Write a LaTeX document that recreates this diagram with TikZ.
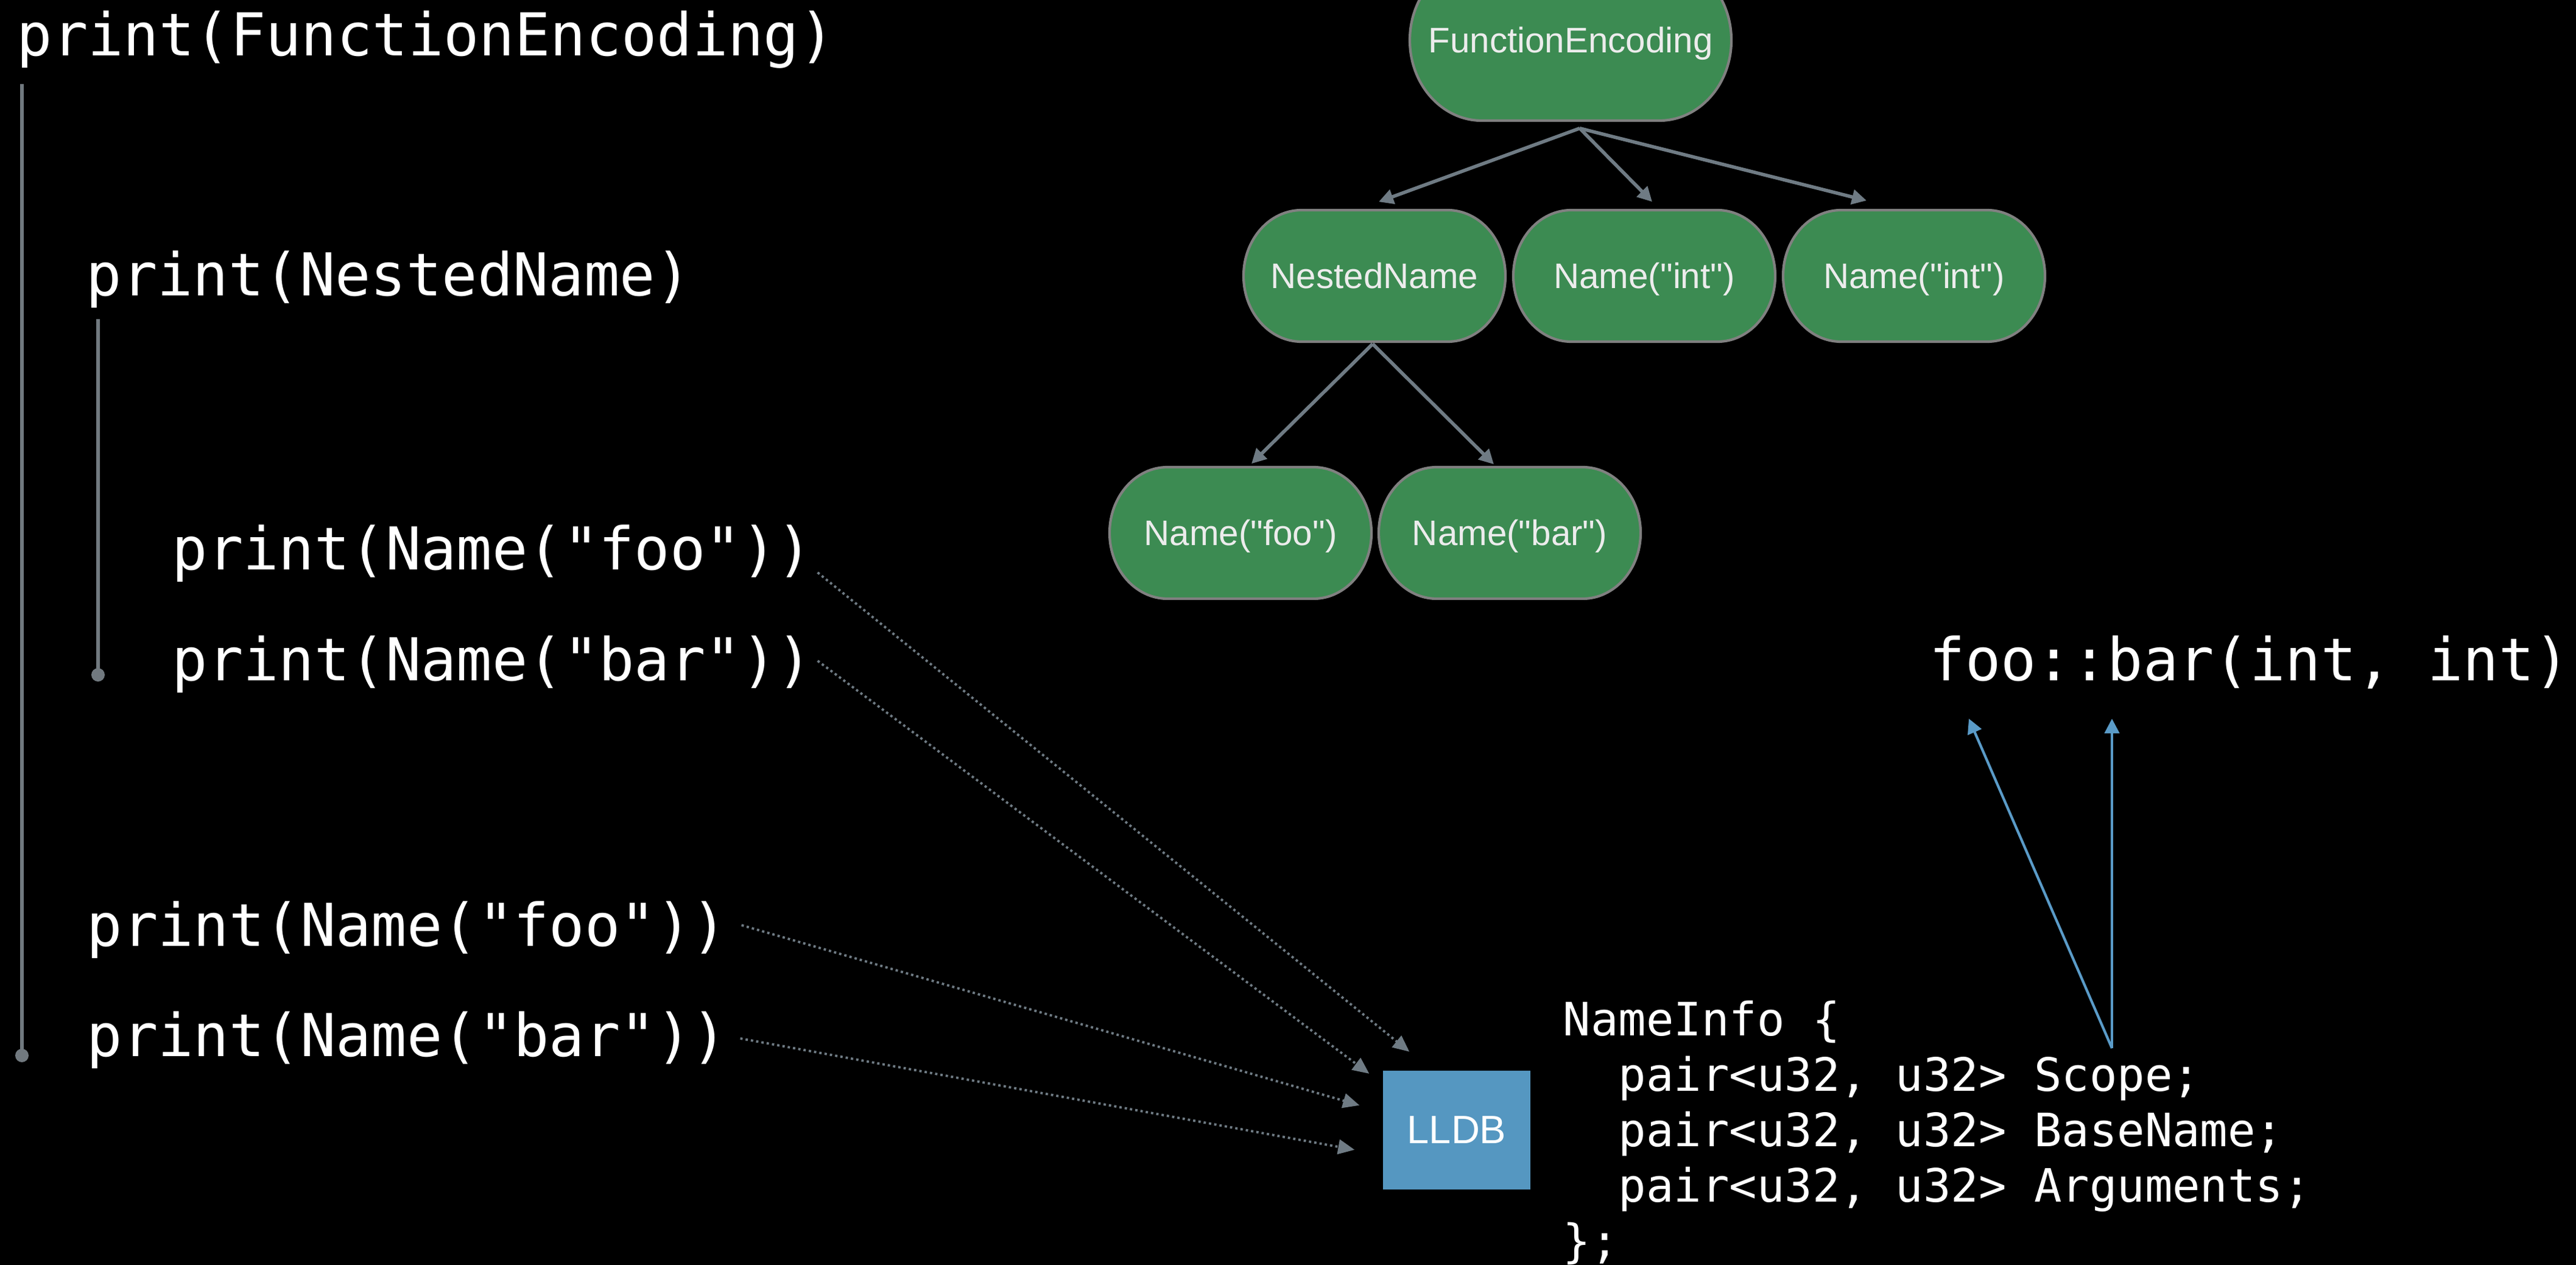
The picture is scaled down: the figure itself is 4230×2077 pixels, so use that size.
\documentclass[tikz,border=0pt]{standalone}
\usepackage{fontspec}
\setmainfont{Liberation Sans}[Ligatures=TeXOff]
\newfontfamily\codefont{DejaVu Sans Mono}[Ligatures=TeXOff]
\usetikzlibrary{arrows.meta,calc}
\definecolor{nodegreen}{HTML}{3C8B52}
\definecolor{nodeedge}{HTML}{808080}
\definecolor{edgegray}{HTML}{6F7B84}
\definecolor{guidegray}{HTML}{71797F}
\definecolor{lldbblue}{HTML}{5597C1}
\definecolor{ptrblue}{HTML}{5A9BC8}
\definecolor{labelwhite}{HTML}{ECECEC}
\tikzset{
  code/.style={anchor=base west, inner sep=0pt, text=white, font=\codefont\fontsize{27.6}{32}\selectfont},
  smallcode/.style={code, font=\codefont\fontsize{21.5}{25}\selectfont},
  pill/.style={fill=nodegreen, draw=nodeedge, line width=1.2pt},
  tnode/.style={inner sep=0pt, text=labelwhite, text height=11.9pt, text depth=0pt, font=\fontsize{16.6}{20}\selectfont},
  treearrow/.style={draw=edgegray, line width=1.6pt, -{Triangle[length=2.4mm,width=2.4mm]}},
  dotarrow/.style={draw=edgegray, line width=1.1pt, dash pattern=on 1.1pt off 1.4pt, -{Triangle[length=2.7mm,width=2.4mm]}},
  ptr/.style={draw=ptrblue, line width=1.2pt, -{Triangle[length=2.4mm,width=2.4mm]}},
  guide/.style={draw=guidegray, line width=1.8pt},
  lldbbox/.style={fill=lldbblue, text=white, minimum width=24.2mm, minimum height=19.5mm, font=\fontsize{18.5}{22}\selectfont}
}
\begin{document}
\begin{tikzpicture}[x=0.1mm, y=0.1mm]
\useasboundingbox (0,0) rectangle (4230,-2077);
\fill[black] (0,0) rectangle (4230,-2077);
\draw[guide] (36,-138) -- (36,-1733);
\fill[guidegray] (36,-1733) circle (1.1mm);
\draw[guide] (161,-524) -- (161,-1108);
\fill[guidegray] (161,-1108) circle (1.1mm);
\node[code] (pfe) at (27,-92) {print(FunctionEncoding)};
\node[code] (pnested) at (141,-486) {print(NestedName)};
\node[code] (pfoo1) at (282,-935) {print(Name("foo"))};
\node[code] (pbar1) at (282,-1117) {print(Name("bar"))};
\node[code] (pfoo2) at (142,-1553) {print(Name("foo"))};
\node[code] (pbar2) at (142,-1734) {print(Name("bar"))};
\node[code] (sig) at (3168,-1117) {foo::bar(int, int)};
\foreach \n/\x/\y/\w/\h/\r/\t in {
    fe/2579/-66/264/132/118/FunctionEncoding,
    nested/2257/-453/215/108/95/NestedName,
    inta/2700/-453/215/108/95/Name("int"),
    intb/3143/-453/215/108/95/Name("int"),
    foo/2037/-875/215/108/95/Name("foo"),
    bar/2479/-875/215/108/95/Name("bar")}
{
    \filldraw[pill] (\x-\w+\r,\y+\h) -- (\x+\w-\r,\y+\h)
        arc[start angle=90, end angle=-90, x radius=\r*0.1mm, y radius=\h*0.1mm]
        -- (\x-\w+\r,\y-\h)
        arc[start angle=270, end angle=90, x radius=\r*0.1mm, y radius=\h*0.1mm] -- cycle;
    \node[tnode, minimum width=\w*0.2mm, minimum height=\h*0.2mm] (\n) at (\x,\y) {\t};
}
\draw[treearrow] ($(fe.south)+(15,-12)$) -- ($(nested.north)+(7,13)$);
\draw[treearrow] ($(fe.south)+(15,-12)$) -- ($(inta.north)+(13,13)$);
\draw[treearrow] ($(fe.south)+(15,-12)$) -- ($(intb.north)+(-78,15)$);
\draw[treearrow] ($(nested.south)+(-3,-3)$) -- ($(foo.north)+(18,5)$);
\draw[treearrow] ($(nested.south)+(-3,-3)$) -- ($(bar.north)+(-26,4)$);
\node[lldbbox] (lldb) at (2392,-1855) {LLDB};
\draw[dotarrow] ($(pfoo1.base east)+(8,-5)$) -- ($(lldb.north west)+(44,30)$);
\draw[dotarrow] ($(pbar1.base east)+(8,32)$) -- ($(lldb.north west)+(-22,-6)$);
\draw[dotarrow] ($(pfoo2.base east)+(23,34)$) -- ($(lldb.north west)+(-38,-58)$);
\draw[dotarrow] ($(pbar2.base east)+(21,29)$) -- ($(lldb.north west)+(-46,-131)$);
\foreach \i/\t in {0/{NameInfo \{},
    1/{\hphantom{NN}pair<u32, u32> Scope;},
    2/{\hphantom{NN}pair<u32, u32> BaseName;},
    3/{\hphantom{NN}pair<u32, u32> Arguments;},
    4/{\};}}
    \node[smallcode] (info\i) at (2566,-1700-91*\i) {\t};
\coordinate (scopeptr) at ($(info1.base west)+(902,70)$);
\draw[ptr] (scopeptr) -- ($(sig.base west)+(65,-63)$);
\draw[ptr] (scopeptr) -- ($(sig.base west)+(300,-63)$);
\end{tikzpicture}
\end{document}
